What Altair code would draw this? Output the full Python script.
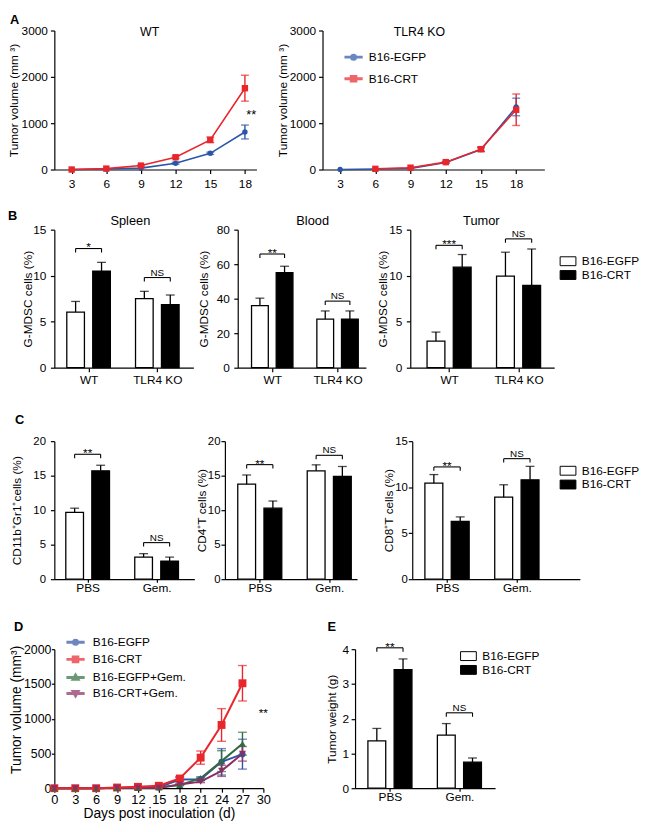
import altair as alt
import pandas as pd

FONT = "Liberation Sans"
SERIES = ["B16-EGFP", "B16-CRT"]
A_COLORS = ["#2b56a8", "#e8262b"]
D_SERIES = ["B16-EGFP", "B16-CRT", "B16-EGFP+Gem.", "B16-CRT+Gem."]
D_COLORS = ["#3452a4", "#e8262b", "#2f6d3e", "#8c2d63"]

# ---------------- Panel A : tumor growth ----------------
a_days = [3, 6, 9, 12, 15, 18]
a_wt_egfp = [0, 10, 30, 135, 350, 810]
a_wt_egfp_err = [0, 0, 0, 20, 25, 150]
a_wt_crt = [0, 20, 85, 265, 640, 1755]
a_wt_crt_err = [0, 0, 10, 25, 60, 280]
a_ko_egfp = [0, 10, 25, 150, 430, 1350]
a_ko_egfp_err = [0, 0, 0, 15, 40, 190]
a_ko_crt_days = [6, 9, 12, 15, 18]
a_ko_crt = [15, 40, 160, 440, 1290]
a_ko_crt_err = [0, 5, 15, 50, 340]
a_yticks = [0, 1000, 2000, 3000]

# ---------------- Panel B : G-MDSC ----------------
b_groups = ["WT", "TLR4 KO"]
spleen_egfp = [6.05, 7.5]
spleen_egfp_err = [1.15, 0.8]
spleen_crt = [10.5, 6.85]
spleen_crt_err = [0.95, 1.05]
spleen_br = [12.95, 9.8]
spleen_sig = ["*", "NS"]

blood_egfp = [36.0, 28.2]
blood_egfp_err = [4.3, 4.7]
blood_crt = [55.1, 28.2]
blood_crt_err = [3.7, 4.7]
blood_br = [65.9, 38.6]
blood_sig = ["**", "NS"]

tumor_egfp = [2.9, 9.95]
tumor_egfp_err = [0.97, 2.6]
tumor_crt = [10.93, 8.95]
tumor_crt_err = [1.37, 3.95]
tumor_br = [13.3, 14.0]
tumor_sig = ["***", "NS"]

# ---------------- Panel C ----------------
c_groups = ["PBS", "Gem."]
c1_egfp = [9.67, 3.2]
c1_egfp_err = [0.62, 0.5]
c1_crt = [15.71, 2.6]
c1_crt_err = [0.8, 0.6]
c1_br = [18.1, 5.3]
c1_sig = ["**", "NS"]

c2_egfp = [13.76, 15.71]
c2_egfp_err = [1.34, 0.86]
c2_crt = [10.29, 14.9]
c2_crt_err = [1.04, 1.43]
c2_br = [16.6, 17.95]
c2_sig = ["**", "NS"]

c3_egfp = [10.44, 8.91]
c3_egfp_err = [0.93, 1.35]
c3_crt = [6.27, 10.8]
c3_crt_err = [0.5, 1.46]
c3_br = [12.2, 13.1]
c3_sig = ["**", "NS"]

# ---------------- Panel D ----------------
d_days = [0, 3, 6, 9, 12, 15, 18, 21, 24, 27]
d_egfp = [0, 0, 0, 5, 10, 15, 125, 130, 380, 490]
d_egfp_err = [0, 0, 0, 0, 0, 5, 35, 20, 190, 215]
d_crt = [0, 0, 0, 10, 20, 35, 140, 440, 910, 1510]
d_crt_err = [0, 0, 0, 0, 5, 5, 20, 95, 235, 255]
d_egfp_gem = [0, 0, 0, 5, 5, 10, 45, 145, 390, 640]
d_egfp_gem_err = [0, 0, 0, 0, 0, 0, 10, 20, 150, 165]
d_crt_gem = [0, 0, 0, 5, 5, 5, 55, 95, 250, 495]
d_crt_gem_err = [0, 0, 0, 0, 0, 0, 10, 15, 80, 105]

# ---------------- Panel E ----------------
e_egfp = [1.36, 1.53]
e_egfp_err = [0.36, 0.33]
e_crt = [3.41, 0.75]
e_crt_err = [0.31, 0.12]
e_br = [4.04, 2.17]
e_sig = ["**", "NS"]

GAP = 2.65
HALF = 0.34

# legend symbol paths
def dash_marker(marker):
    return "M-1.7,-0.15H-0.62V0.15H-1.7Z M0.62,-0.15H1.7V0.15H0.62Z " + marker

CIRCLE = "M-0.56,0A0.56,0.56 0 1,0 0.56,0A0.56,0.56 0 1,0 -0.56,0Z"
SQUARE = "M-0.62,-0.62H0.62V0.62H-0.62Z"
TRI_UP = "M-0.75,0.55L0,-0.75L0.75,0.55Z"
TRI_DOWN = "M-0.75,-0.55L0.75,-0.55L0,0.75Z"
BOX = "M-1.6,-0.9H1.6V0.9H-1.6Z"


def letter_layer(text, visible, XA, YA, xdom, ydom, dx, dy):
    df = pd.DataFrame({"lx": [xdom[0]], "ly": [ydom[1]], "lt": [text]})
    return alt.Chart(df).mark_text(
        align="left", baseline="top", dx=dx, dy=dy, font=FONT, fontSize=13,
        fontWeight="bold", color="black", opacity=1 if visible else 0
    ).encode(x=XA("lx:Q"), y=YA("ly:Q"), text="lt:N")


def text_layer(x, y, t, XA, YA, fs, baseline="middle", dy=0, align="center"):
    df = pd.DataFrame({"tx": [x], "ty": [y], "tt": [t]})
    return alt.Chart(df).mark_text(
        align=align, baseline=baseline, dy=dy, font=FONT, fontSize=fs, color="black"
    ).encode(x=XA("tx:Q"), y=YA("ty:Q"), text="tt:N")


def line_df(names, days_list, vals_list, errs_list):
    parts = []
    for n, d, v, e in zip(names, days_list, vals_list, errs_list):
        parts.append(pd.DataFrame({"day": d, "val": v, "err": e, "series": n}))
    df = pd.concat(parts, ignore_index=True)
    df["lo"] = df["val"] - df["err"]
    df["hi"] = df["val"] + df["err"]
    return df


def line_panel(c):
    df = c["df"]
    xs = alt.Scale(domain=c["xdom"], nice=False, zero=False)
    ys = alt.Scale(domain=c["ydom"], nice=False, zero=False)
    sc = alt.Scale(domain=c["series"], range=c["colors"])
    XA = lambda f: alt.X(f, scale=xs, axis=c["xaxis"])
    YA = lambda f: alt.Y(f, scale=ys, axis=c["yaxis"])
    base = alt.Chart(df)
    layers = []
    if c.get("legend"):
        lx, ly, loff, rpad = c["legend"]
        lg = alt.Legend(title=None, orient="none", legendX=lx, legendY=ly, symbolSize=100,
                        labelFontSize=12, labelFont=FONT, labelColor="black",
                        labelOffset=loff, rowPadding=rpad, padding=0)
        layers.append(base.transform_filter("datum.val < -1").mark_point(filled=True, size=100).encode(
            x=XA("day:Q"), y=YA("val:Q"),
            color=alt.Color("series:N", scale=sc, legend=lg),
            shape=alt.Shape("series:N", scale=alt.Scale(
                domain=c["series"], range=[dash_marker(m) for m in c["leg_markers"]]), legend=lg)))
    layers.append(base.mark_line(strokeWidth=c["lw"]).encode(
        x=XA("day:Q"), y=YA("val:Q"), stroke=alt.Stroke("series:N", scale=sc, legend=None)))
    eb = base.transform_filter("datum.err > 0")
    layers.append(eb.mark_rule(strokeWidth=1.4).encode(
        x=XA("day:Q"), y=YA("lo:Q"), y2="hi:Q",
        stroke=alt.Stroke("series:N", scale=sc, legend=None)))
    for fld in ["lo", "hi"]:
        layers.append(eb.mark_tick(orient="horizontal", size=c["cap"], thickness=1.4).encode(
            x=XA("day:Q"), y=YA(f"{fld}:Q"),
            fill=alt.Fill("series:N", scale=sc, legend=None)))
    for s, shp, sz in zip(c["series"], c["shapes"], c["sizes"]):
        layers.append(base.transform_filter(alt.datum.series == s).mark_point(
            filled=True, shape=shp, size=sz, opacity=1).encode(
            x=XA("day:Q"), y=YA("val:Q"),
            fill=alt.Fill("series:N", scale=sc, legend=None)))
    for (tx, ty, tt, fs, bl, dy) in c.get("texts", []):
        layers.append(text_layer(tx, ty, tt, XA, YA, fs, baseline=bl, dy=dy))
    layers.append(letter_layer(c["letter"], c["letter_visible"], XA, YA, c["xdom"], c["ydom"],
                               c["letter_dx"], c["letter_dy"]))
    return alt.layer(*layers).properties(width=c["width"], height=c["height"])


def bar_panel(c):
    groups = c["groups"]
    rows = []
    for gi, g in enumerate(groups):
        for si, (v, e) in enumerate([(c["egfp"], c["egfp_err"]), (c["crt"], c["crt_err"])]):
            rows.append({"series": SERIES[si], "pos": 1 + gi * GAP + si,
                         "mean": v[gi], "top": v[gi] + e[gi]})
    df = pd.DataFrame(rows)
    leg = c["ydom"][1] * 4.0 / c["height"]
    br = pd.DataFrame({"x1": [1 + gi * GAP for gi in range(len(groups))], "y": c["br"], "sig": c["sig"]})
    br["x2"] = br["x1"] + 1
    br["xm"] = br["x1"] + 0.5
    br["yl"] = br["y"] - leg
    xs = alt.Scale(domain=c["xdom"], nice=False, zero=False)
    ys = alt.Scale(domain=c["ydom"], nice=False, zero=False)
    centers = [1.5 + gi * GAP for gi in range(len(groups))]
    mid = (centers[0] + centers[1]) / 2
    lexpr = f"datum.value < {mid} ? '{groups[0]}' : '{groups[1]}'"
    xaxis = alt.Axis(values=centers, labelExpr=lexpr, title=None, labelFontSize=c["xlab_fs"],
                     tickSize=c["xtick"], labelPadding=c["xpad"], grid=False,
                     labelFlush=False, labelOverlap=False)
    yaxis = alt.Axis(values=c["yticks"], format="d", title=c["ytitle"], titleX=c["ytitle_x"],
                     titleBaseline="middle", titleFontSize=c["ytitle_fs"],
                     labelFontSize=c["tick_fs"], tickSize=c["ytick"], labelPadding=c["ypad"],
                     grid=False, labelFlush=False, labelOverlap=False)
    XA = lambda f: alt.X(f, scale=xs, axis=xaxis)
    YA = lambda f: alt.Y(f, scale=ys, axis=yaxis)
    legend = None
    if c.get("legend"):
        lx, ly, rpad = c["legend"]
        legend = alt.Legend(title=None, orient="none", legendX=lx, legendY=ly, symbolType=BOX,
                            symbolSize=100, symbolStrokeColor="black", symbolStrokeWidth=1,
                            labelFontSize=12, labelFont=FONT, labelColor="black", labelOffset=8,
                            rowPadding=rpad, padding=0)
    layers = []
    layers.append(alt.Chart(df).transform_calculate(
        xl=f"datum.pos - {HALF}", xr=f"datum.pos + {HALF}"
    ).mark_bar(stroke="black", strokeWidth=1.3).encode(
        x=XA("xl:Q"), x2="xr:Q", y=YA("mean:Q"), y2=alt.datum(0),
        fill=alt.Fill("series:N", scale=alt.Scale(domain=SERIES, range=["white", "black"]), legend=legend)))
    layers.append(alt.Chart(df).mark_rule(color="black", strokeWidth=1.3).encode(
        x=XA("pos:Q"), y=YA("mean:Q"), y2="top:Q"))
    layers.append(alt.Chart(df).mark_tick(color="black", orient="horizontal", size=9, thickness=1.3).encode(
        x=XA("pos:Q"), y=YA("top:Q")))
    bb = alt.Chart(br)
    layers.append(bb.mark_rule(color="black", strokeWidth=1.1).encode(x=XA("x1:Q"), x2="x2:Q", y=YA("y:Q")))
    layers.append(bb.mark_rule(color="black", strokeWidth=1.1).encode(x=XA("x1:Q"), y=YA("yl:Q"), y2="y:Q"))
    layers.append(bb.mark_rule(color="black", strokeWidth=1.1).encode(x=XA("x2:Q"), y=YA("yl:Q"), y2="y:Q"))
    layers.append(bb.transform_filter("datum.sig != 'NS'").mark_text(
        baseline="alphabetic", dy=3, font=FONT, fontSize=12, color="black").encode(
        x=XA("xm:Q"), y=YA("y:Q"), text="sig:N"))
    layers.append(bb.transform_filter("datum.sig == 'NS'").mark_text(
        baseline="alphabetic", dy=-2, font=FONT, fontSize=10, color="black").encode(
        x=XA("xm:Q"), y=YA("y:Q"), text="sig:N"))
    if c.get("title"):
        layers.append(text_layer(c["title_x"], c["ydom"][1], c["title"], XA, YA, 13,
                                 baseline="bottom", dy=-2))
    layers.append(letter_layer(c["letter"], c["letter_visible"], XA, YA, c["xdom"], c["ydom"],
                               c["letter_dx"], c["letter_dy"]))
    return alt.layer(*layers).properties(width=c["width"], height=c["height"])


def indep(ch):
    return ch.resolve_scale(color="independent", fill="independent", stroke="independent",
                            shape="independent").resolve_legend(
        color="independent", fill="independent", stroke="independent", shape="independent")


# ---------------- build Panel A ----------------
def a_axes(title_x):
    xa = alt.Axis(values=a_days, title=None, labelFontSize=12, tickSize=4, labelPadding=5,
                  grid=False, labelFlush=False, labelOverlap=False)
    ya = alt.Axis(values=a_yticks, format="d", title="Tumor volume (mm ³)", titleX=title_x,
                  titleBaseline="middle", titleFontSize=12, labelFontSize=12, tickSize=4,
                  labelPadding=3, grid=False, labelFlush=False, labelOverlap=False)
    return xa, ya

xa, ya = a_axes(-41)
wt = line_panel(dict(
    df=line_df(SERIES, [a_days, a_days], [a_wt_egfp, a_wt_crt], [a_wt_egfp_err, a_wt_crt_err]),
    xdom=[1.5, 19], ydom=[0, 3000], series=SERIES, colors=A_COLORS, xaxis=xa, yaxis=ya,
    lw=1.6, cap=8, shapes=["circle", "square"], sizes=[30, 42], width=205, height=141,
    texts=[(9.75, 3000, "WT", 12.5, "middle", 1.5), (18.55, 1180, "**", 13, "middle", 0)],
    letter="A", letter_visible=True, letter_dx=-45, letter_dy=-17))

xa, ya = a_axes(-41)
ko = line_panel(dict(
    df=line_df(SERIES, [a_days, a_ko_crt_days], [a_ko_egfp, a_ko_crt], [a_ko_egfp_err, a_ko_crt_err]),
    xdom=[1.5, 20.4], ydom=[0, 3000], series=SERIES, colors=A_COLORS, xaxis=xa, yaxis=ya,
    lw=1.6, cap=8, shapes=["circle", "square"], sizes=[30, 42], width=225, height=141,
    legend=(25.5, 21, 9.5, 9), leg_markers=[CIRCLE, SQUARE],
    texts=[(9.75, 3000, "TLR4 KO", 12.5, "middle", 1.5)],
    letter="A", letter_visible=False, letter_dx=0, letter_dy=-17))

row_a = indep(alt.hconcat(wt, ko, spacing=20))

# ---------------- build Panel B ----------------
b_common = dict(groups=b_groups, height=140, ytitle="G-MDSC cells (%)", ytitle_fs=12,
                tick_fs=12, xlab_fs=12, xtick=4, xpad=3.5, ytick=4, ypad=4.5,
                letter="B", letter_dy=-20)
spleen = bar_panel(dict(b_common, egfp=spleen_egfp, egfp_err=spleen_egfp_err, crt=spleen_crt,
                        crt_err=spleen_crt_err, br=spleen_br, sig=spleen_sig,
                        xdom=[0.18, 5.54], ydom=[0, 15], yticks=[0, 5, 10, 15], width=141,
                        ytitle_x=-27.5, title="Spleen", title_x=3.11,
                        letter_visible=True, letter_dx=-47))
blood = bar_panel(dict(b_common, egfp=blood_egfp, egfp_err=blood_egfp_err, crt=blood_crt,
                       crt_err=blood_crt_err, br=blood_br, sig=blood_sig,
                       xdom=[0.1, 5.3], ydom=[0, 80], yticks=[0, 20, 40, 60, 80], width=130,
                       ytitle_x=-34.5, title="Blood", title_x=3.14,
                       letter_visible=False, letter_dx=0))
tumor = bar_panel(dict(b_common, egfp=tumor_egfp, egfp_err=tumor_egfp_err, crt=tumor_crt,
                       crt_err=tumor_crt_err, br=tumor_br, sig=tumor_sig,
                       xdom=[0.02, 5.51], ydom=[0, 15], yticks=[0, 5, 10, 15], width=146,
                       ytitle_x=-28, title="Tumor", title_x=2.73,
                       legend=(154, 26, 0), letter_visible=False, letter_dx=0))
row_b = indep(alt.hconcat(spleen, indep(alt.hconcat(blood, tumor, spacing=10)), spacing=4))

# ---------------- build Panel C ----------------
c_common = dict(groups=c_groups, height=140, ytitle_fs=12, tick_fs=11.5, xlab_fs=12,
                xtick=3, xpad=0, ytick=4, letter="C", letter_dy=-27)
c1 = bar_panel(dict(c_common, egfp=c1_egfp, egfp_err=c1_egfp_err, crt=c1_crt, crt_err=c1_crt_err,
                    br=c1_br, sig=c1_sig, xdom=[0.22, 5.6], ydom=[0, 20],
                    yticks=[0, 5, 10, 15, 20], width=142, ypad=5,
                    ytitle="CD11b⁺Gr1⁺cells (%)", ytitle_x=-38,
                    letter_visible=True, letter_dx=-40))
c2 = bar_panel(dict(c_common, egfp=c2_egfp, egfp_err=c2_egfp_err, crt=c2_crt, crt_err=c2_crt_err,
                    br=c2_br, sig=c2_sig, xdom=[0.17, 5.21], ydom=[0, 20],
                    yticks=[0, 5, 10, 15, 20], width=134, ypad=1,
                    ytitle="CD4⁺T cells (%)", ytitle_x=-24,
                    letter_visible=False, letter_dx=0))
c3 = bar_panel(dict(c_common, egfp=c3_egfp, egfp_err=c3_egfp_err, crt=c3_crt, crt_err=c3_crt_err,
                    br=c3_br, sig=c3_sig, xdom=[0.18, 6.54], ydom=[0, 15],
                    yticks=[0, 5, 10, 15], width=170, ypad=1,
                    ytitle="CD8⁺T cells (%)", ytitle_x=-24, legend=(152, 24, 0),
                    letter_visible=False, letter_dx=0))
row_c = indep(alt.hconcat(c1, indep(alt.hconcat(c2, c3, spacing=25)), spacing=0))

# ---------------- build Panel D ----------------
dxa = alt.Axis(values=d_days + [30], title="Days post inoculation (d)", titleY=26,
               titleBaseline="middle", titleFontSize=14, labelFontSize=13, tickSize=4,
               labelPadding=1, grid=False, labelFlush=False, labelOverlap=False)
dya = alt.Axis(values=[0, 500, 1000, 1500, 2000], format="d", title="Tumor volume (mm³)", titleX=-38,
               titleY=61, titleBaseline="middle", titleFontSize=14, labelFontSize=12.5,
               tickSize=3, labelPadding=0.5, grid=False, labelFlush=False, labelOverlap=False)
d_order = ["B16-EGFP", "B16-EGFP+Gem.", "B16-CRT+Gem.", "B16-CRT"]
d_vals = {"B16-EGFP": (d_egfp, d_egfp_err), "B16-CRT": (d_crt, d_crt_err),
          "B16-EGFP+Gem.": (d_egfp_gem, d_egfp_gem_err), "B16-CRT+Gem.": (d_crt_gem, d_crt_gem_err)}
d_shape = {"B16-EGFP": "circle", "B16-CRT": "square", "B16-EGFP+Gem.": "triangle-up",
           "B16-CRT+Gem.": "triangle-down"}
d_size = {"B16-EGFP": 40, "B16-CRT": 64, "B16-EGFP+Gem.": 50, "B16-CRT+Gem.": 50}
panel_d = line_panel(dict(
    df=line_df(d_order, [d_days] * 4, [d_vals[s][0] for s in d_order], [d_vals[s][1] for s in d_order]),
    xdom=[0, 30], ydom=[0, 2000], series=D_SERIES, colors=D_COLORS, xaxis=dxa, yaxis=dya,
    lw=2, cap=9, shapes=[d_shape[s] for s in D_SERIES], sizes=[d_size[s] for s in D_SERIES],
    width=212, height=141, legend=(15.5, -13, 11.5, 4.3),
    leg_markers=[CIRCLE, SQUARE, TRI_UP, TRI_DOWN],
    texts=[(30, 1080, "**", 12, "middle", 0)],
    letter="D", letter_visible=True, letter_dx=-41, letter_dy=-28))

panel_e = bar_panel(dict(groups=c_groups, height=141, ytitle="Tumor weight (g)", ytitle_fs=12,
                         tick_fs=12, xlab_fs=12, xtick=3, xpad=0.5, ytick=4, ypad=2.5,
                         egfp=e_egfp, egfp_err=e_egfp_err, crt=e_crt, crt_err=e_crt_err,
                         br=e_br, sig=e_sig, xdom=[0.17, 5.51], ydom=[0, 4],
                         yticks=[0, 1, 2, 3, 4], width=142, ytitle_x=-24,
                         legend=(109, 1, 0), letter="E", letter_visible=True,
                         letter_dx=-28, letter_dy=-28))
row_d = indep(alt.hconcat(panel_d, panel_e, spacing=55))

rest = indep(alt.vconcat(row_b, indep(alt.vconcat(row_c, row_d, spacing=29)), spacing=28.5))
chart = indep(alt.vconcat(row_a, rest, spacing=21)).properties(padding=0)

chart = chart.configure_view(stroke=None).configure_axis(
    labelFont=FONT, titleFont=FONT, labelColor="black", titleColor="black",
    domainColor="black", tickColor="black", domainWidth=1.2, tickWidth=1.2,
    titleFontWeight="normal"
)

chart.save("out.html", embed_options={"renderer": "svg", "actions": False})
